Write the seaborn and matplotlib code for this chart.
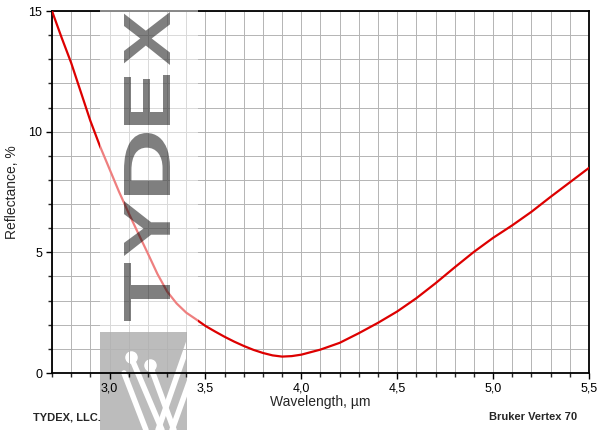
import matplotlib
matplotlib.use("Agg")
import matplotlib.pyplot as plt
import seaborn as sns
import numpy as np
import pandas as pd
from matplotlib.ticker import MultipleLocator, FixedLocator, FixedFormatter
from matplotlib.lines import Line2D
from matplotlib.patches import Rectangle, PathPatch
from matplotlib.textpath import TextPath
from matplotlib.font_manager import FontProperties
from matplotlib.transforms import Affine2D, IdentityTransform

# ---- data ----
wavelength = [2.70, 2.75, 2.80, 2.85, 2.90, 2.95, 3.00, 3.05, 3.10, 3.15, 3.20, 3.25,
              3.30, 3.35, 3.40, 3.45, 3.50, 3.55, 3.60, 3.65, 3.70, 3.75, 3.80, 3.85,
              3.90, 3.95, 4.00, 4.10, 4.20, 4.30, 4.40, 4.50, 4.60, 4.70, 4.80, 4.90,
              5.00, 5.10, 5.20, 5.30, 5.40, 5.50]
reflectance = [15.0, 13.9, 12.85, 11.65, 10.45, 9.4, 8.45, 7.5, 6.62, 5.78, 4.95, 4.1,
               3.38, 2.88, 2.5, 2.23, 1.95, 1.72, 1.5, 1.3, 1.12, 0.96, 0.83, 0.73,
               0.68, 0.70, 0.76, 0.97, 1.25, 1.65, 2.08, 2.55, 3.1, 3.72, 4.38, 5.02,
               5.6, 6.12, 6.68, 7.3, 7.9, 8.5]
x_ticks = [3.0, 3.5, 4.0, 4.5, 5.0, 5.5]
x_ticklabels = ["3,0", "3,5", "4,0", "4,5", "5,0", "5,5"]
y_ticks = [0, 5, 10, 15]
y_ticklabels = ["0", "5", "10", "15"]

df = pd.DataFrame({"Wavelength": wavelength, "Reflectance": reflectance})

sns.set_style("white")
plt.rcParams["font.family"] = ["Liberation Sans", "DejaVu Sans"]

fig = plt.figure(figsize=(6.0, 4.3), dpi=100)
fig.patch.set_facecolor("white")
ax = fig.add_axes([52 / 600, (430 - 373) / 430, (589 - 52) / 600, (373 - 11) / 430])
ax.patch.set_alpha(0)

sns.lineplot(data=df, x="Wavelength", y="Reflectance", ax=ax, color="#dd0000",
             linewidth=1.6, zorder=3)

ax.set_xlim(2.7, 5.5)
ax.set_ylim(0, 15)
ax.xaxis.set_major_locator(FixedLocator(x_ticks))
ax.xaxis.set_major_formatter(FixedFormatter(x_ticklabels))
ax.yaxis.set_major_locator(FixedLocator(y_ticks))
ax.yaxis.set_major_formatter(FixedFormatter(y_ticklabels))
ax.xaxis.set_minor_locator(MultipleLocator(0.1))
ax.yaxis.set_minor_locator(MultipleLocator(1))
ax.grid(True, which="both", color="#b4b4b4", linewidth=0.7)
ax.set_axisbelow(True)
for s in ax.spines.values():
    s.set_visible(True)
    s.set_color("black")
    s.set_linewidth(1.3)
ax.tick_params(which="major", direction="out", length=4, width=1, labelsize=9,
               colors="black", bottom=True, left=True, pad=3)
ax.tick_params(which="minor", direction="out", length=3, width=1,
               bottom=True, left=True)
ax.set_xlabel("Wavelength, \u00b5m", fontsize=10, labelpad=0)
ax.set_ylabel("Reflectance, %", fontsize=10, labelpad=7)

# ---- watermark ----
W, H = 600, 430
def fx(px):
    return px / W
def fy(py):
    return 1 - py / H

band = Rectangle((fx(100), fy(332)), (198 - 100) / W, 332 / H,
                 transform=fig.transFigure, facecolor="white", alpha=0.5,
                 edgecolor="none", zorder=10)
fig.add_artist(band)

# letters rotated 90 deg, boxes in image pixels (x0, x1, ytop, ybottom)
fp = FontProperties(family="Liberation Sans", weight="bold")
letter_boxes = [("X", 124, 170, 12, 65), ("E", 124, 170, 75, 125),
                ("D", 124, 170, 133, 195), ("Y", 124, 170, 201, 256),
                ("T", 124, 170, 263, 321)]
for ch, x0, x1, yt, yb in letter_boxes:
    tp = TextPath((0, 0), ch, size=100, prop=fp)
    ext = tp.get_extents()
    sw = (yb - yt) / ext.width
    sh = (x1 - x0) / ext.height
    tr = (Affine2D().translate(-ext.x0, -ext.y0).scale(sw, sh).rotate_deg(90)
          .translate(x1, H - yb))
    patch = PathPatch(tr.transform_path(tp), facecolor="black", alpha=0.5,
                      edgecolor="none", zorder=11)
    patch.set_transform(IdentityTransform())
    fig.add_artist(patch)

logo = Rectangle((fx(100), 0), (187 - 100) / W, (430 - 332) / H,
                 transform=fig.transFigure, facecolor="#bcbcbc",
                 edgecolor="none", zorder=-2)
fig.add_artist(logo)
strokes = [((131, 357), (162, 430)), ((150, 365), (174, 430)),
           ((124, 373), (146, 430)), ((192, 333), (158, 430)),
           ((200, 352), (172, 430))]
for (x0, y0), (x1, y1) in strokes:
    fig.add_artist(Line2D([fx(x0), fx(x1)], [fy(y0), fy(y1)],
                          transform=fig.transFigure, color="white",
                          linewidth=4, solid_capstyle="round", zorder=-1))
for cx, cy in [(131, 357), (150, 365)]:
    fig.add_artist(Line2D([fx(cx)], [fy(cy)], transform=fig.transFigure,
                          marker="o", markersize=8, color="white", zorder=-1))

fig.text(fx(33), fy(418), "TYDEX, LLC.", fontsize=8, fontweight="bold",
         ha="left", va="center")
fig.text(fx(577), fy(417), "Bruker Vertex 70", fontsize=8, fontweight="bold",
         ha="right", va="center")

fig.savefig("out.png", dpi=100)
